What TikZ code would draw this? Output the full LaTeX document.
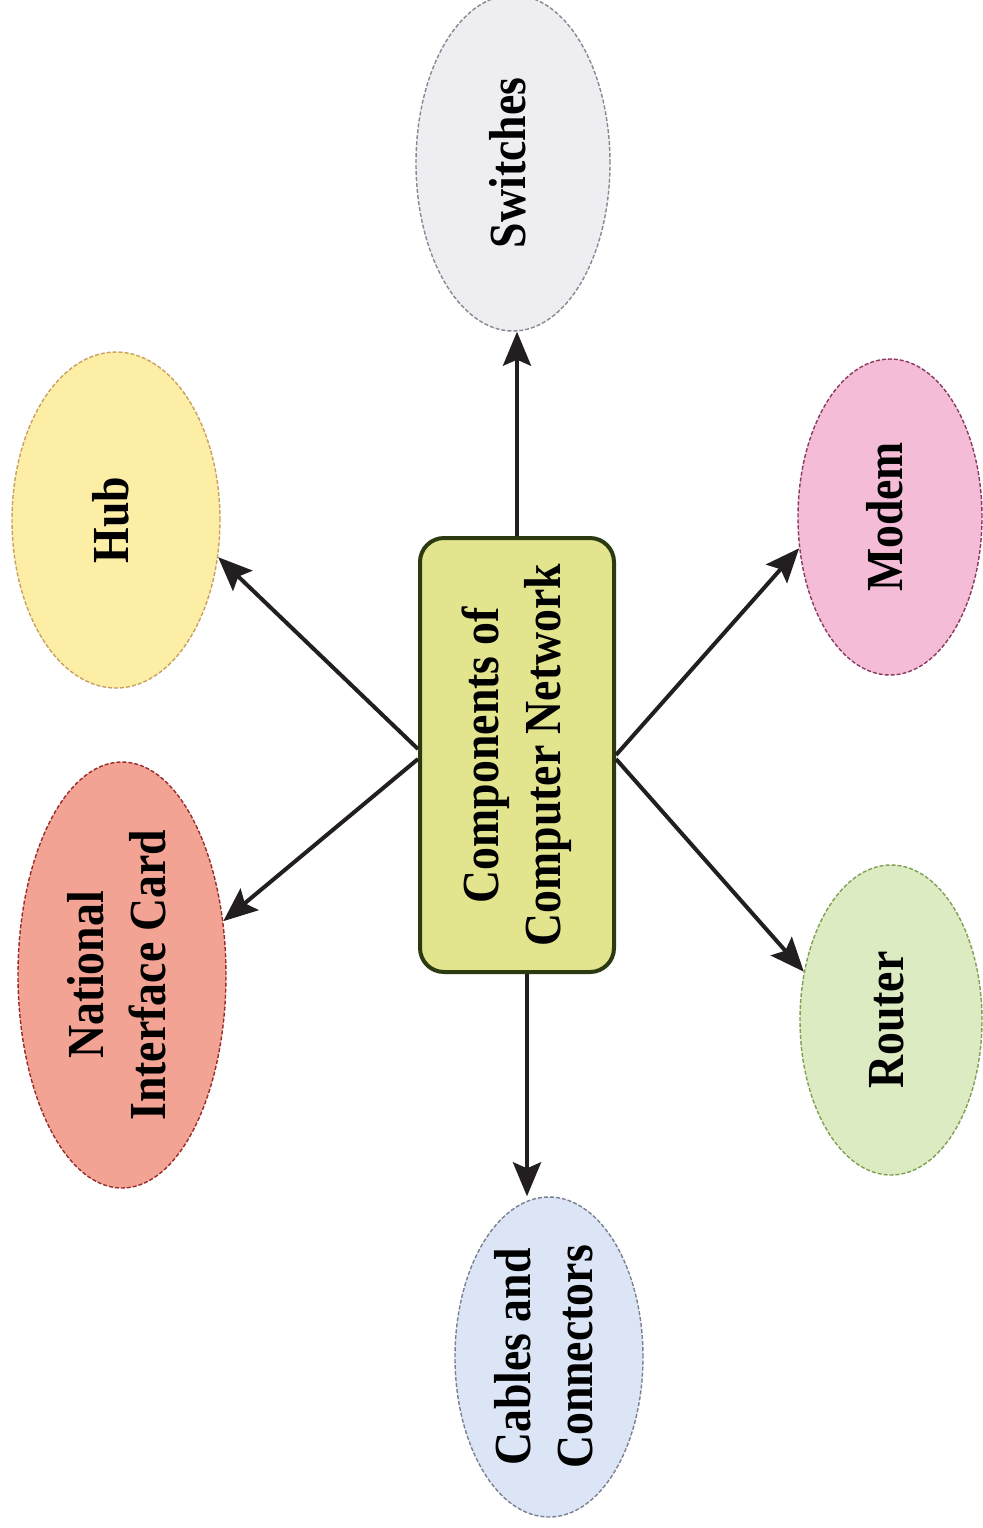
\documentclass[tikz,border=0pt]{standalone}
\usepackage{fontspec}
\setmainfont{Liberation Serif}
\usepackage{graphicx}
\usetikzlibrary{shapes.geometric,arrows.meta}
\definecolor{boxfill}{HTML}{E2E48E}
\definecolor{boxdraw}{HTML}{2C3A12}
\definecolor{swfill}{HTML}{EEEDF1}
\definecolor{swdraw}{HTML}{8A8790}
\definecolor{hubfill}{HTML}{FCEEA4}
\definecolor{hubdraw}{HTML}{C9A060}
\definecolor{nicfill}{HTML}{F3A394}
\definecolor{nicdraw}{HTML}{9A2A28}
\definecolor{modfill}{HTML}{F4BCD6}
\definecolor{moddraw}{HTML}{8A3A60}
\definecolor{roufill}{HTML}{DDEBC2}
\definecolor{roudraw}{HTML}{7FA050}
\definecolor{cabfill}{HTML}{DCE5F5}
\definecolor{cabdraw}{HTML}{7A8090}
\definecolor{arr}{HTML}{231F20}
\newcommand\vtxt[1]{\rotatebox{90}{\scalebox{0.88}[1]{\begin{tabular}{@{}c@{}}#1\end{tabular}}}}
\begin{document}
\begin{tikzpicture}[x=0.5pt,y=-0.5pt,
  lbl/.style={font=\bfseries\fontsize{26}{31}\selectfont, text=black, inner sep=0pt},
  blob/.style={ellipse, lbl, line width=0.7pt, dash pattern=on 2pt off 1pt},
  hubbox/.style={rectangle, rounded corners=12pt, draw=boxdraw, fill=boxfill, line width=2pt, lbl,
    minimum width=97pt, minimum height=217pt},
  link/.style={draw=arr, line width=2pt, -{Stealth[length=17pt,width=14pt,inset=3pt]}}
]
\useasboundingbox (0,0) rectangle (982,1528);
\fill[white] (0,0) rectangle (982,1528);

\node[hubbox] (box) at (517,755) {\vtxt{Components of\\Computer Network}};

\node[blob, draw=swdraw, fill=swfill, minimum width=97pt, minimum height=168pt] (sw) at (513,163) {\vtxt{Switches}};
\node[blob, draw=hubdraw, fill=hubfill, minimum width=104pt, minimum height=168pt] (hub) at (116,520) {\vtxt{Hub}};
\node[blob, draw=nicdraw, fill=nicfill, minimum width=104pt, minimum height=213pt] (nic) at (122,975) {\vtxt{National\\Interface Card}};
\node[blob, draw=moddraw, fill=modfill, minimum width=92pt, minimum height=158pt] (mod) at (890,517) {\vtxt{Modem}};
\node[blob, draw=roudraw, fill=roufill, minimum width=91pt, minimum height=155pt] (rou) at (891,1020) {\vtxt{Router}};
\node[blob, draw=cabdraw, fill=cabfill, minimum width=94pt, minimum height=160pt] (cab) at (549,1357) {\vtxt{Cables and\\Connectors}};

\draw[link] ([yshift=3pt]box.west) -- (hub.-20);
\draw[link] (box.north) -- (box.north |- sw.south);
\draw[link] ([yshift=-2pt]box.west) -- (nic.28);
\draw[link] (box.east) -- (mod.199);
\draw[link] ([yshift=-2pt]box.east) -- (rou.151);
\draw[link] ([xshift=5pt]box.south) -- ([xshift=5pt]box.south |- cab.north);
\end{tikzpicture}
\end{document}
